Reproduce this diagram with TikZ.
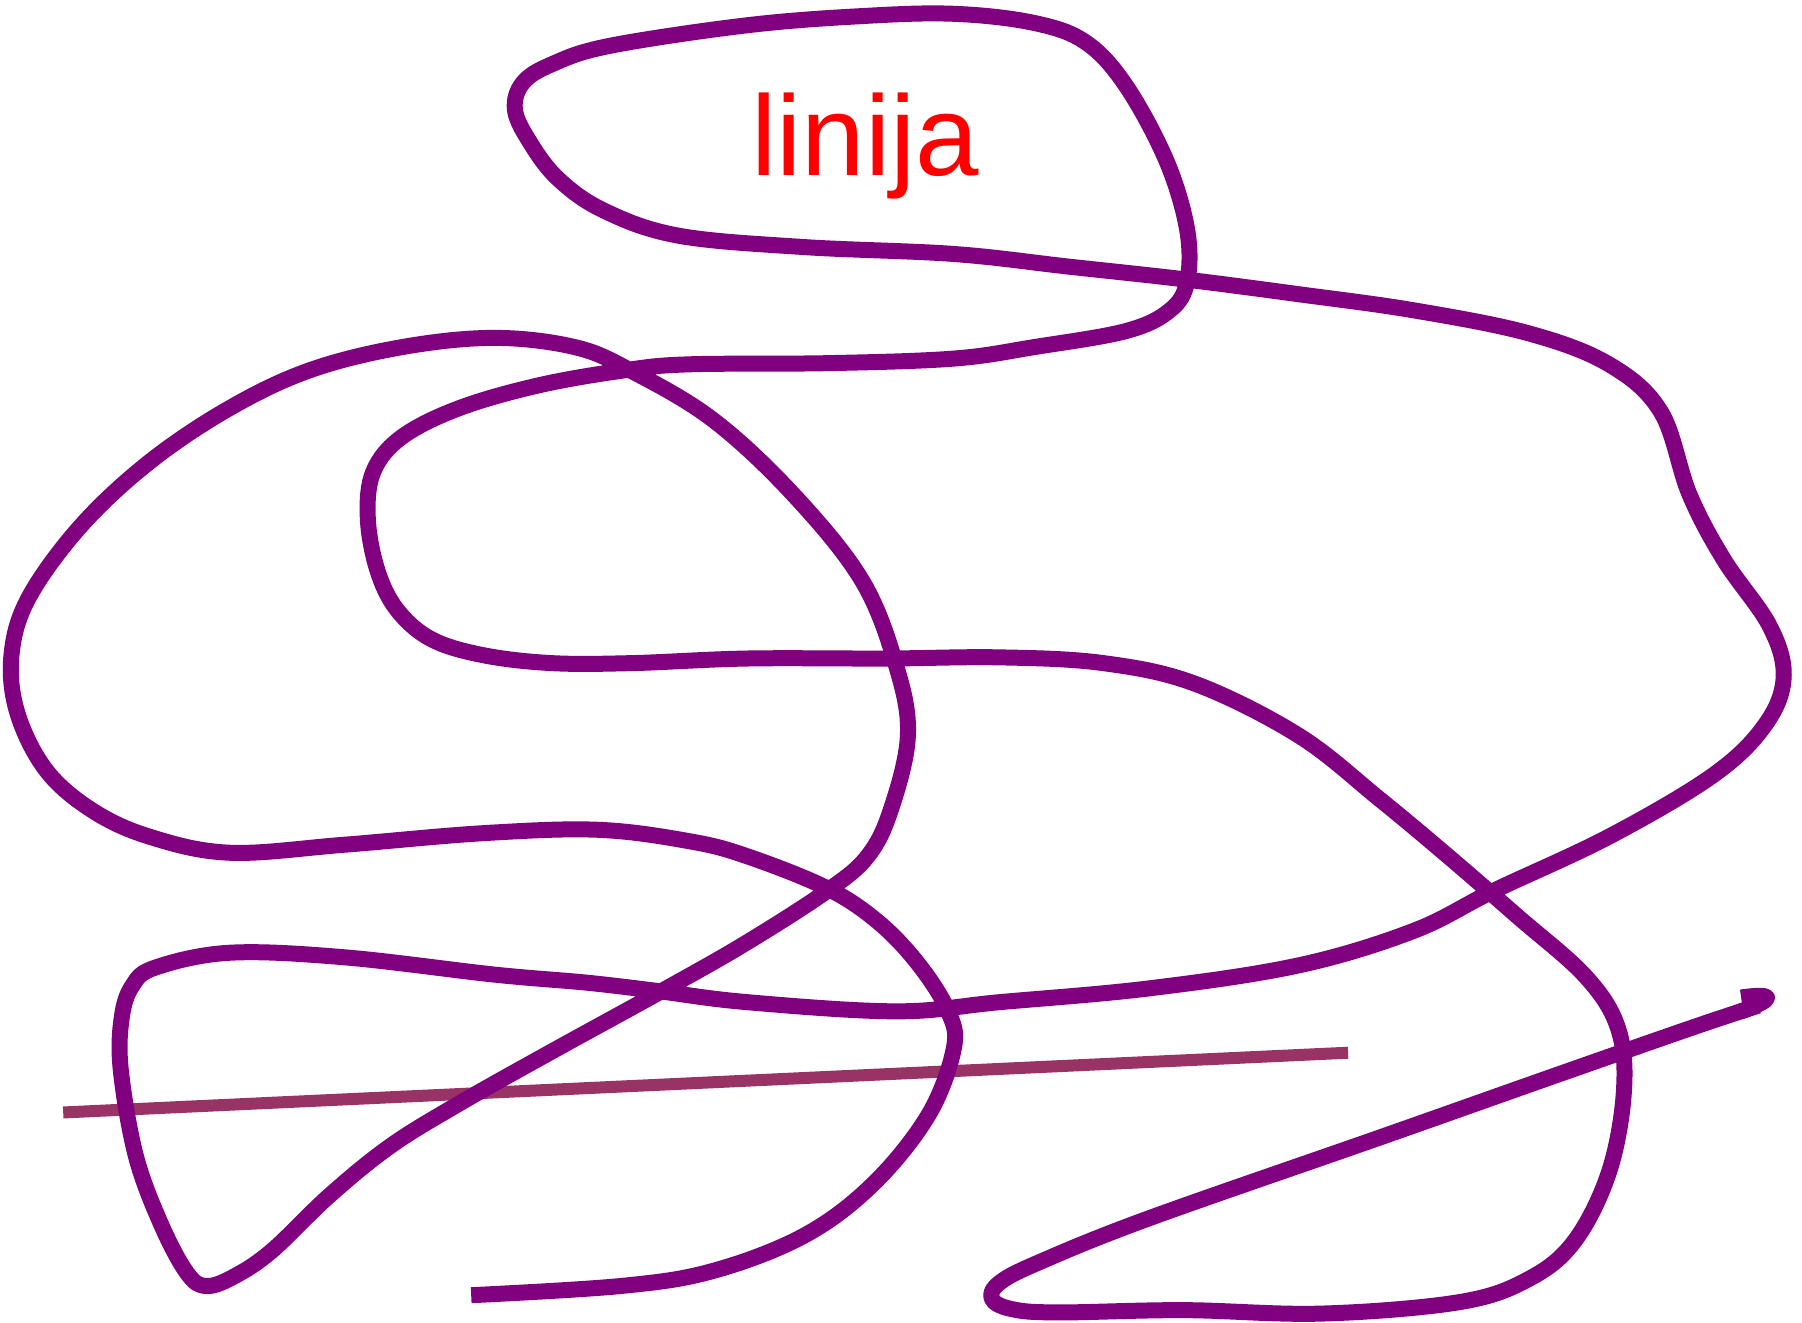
\documentclass[tikz,border=0pt]{standalone}
\usepackage{fontspec}
\setmainfont{Liberation Sans}
\definecolor{curvepurple}{HTML}{800080}
\definecolor{barmaroon}{HTML}{993366}
\definecolor{labelred}{HTML}{FF0000}
\tikzset{
  scribble/.style={draw=curvepurple, line width=16pt, line cap=butt, line join=round},
  bar/.style={draw=barmaroon, line width=12pt, line cap=butt},
  lbl/.style={text=labelred, font=\fontsize{114}{130}\selectfont, inner sep=0pt, anchor=base}
}
\begin{document}
\begin{tikzpicture}[x=1.1492pt, y=-1.1492pt]
\useasboundingbox (0,0) rectangle (1568,1151);
\fill[white] (0,0) rectangle (1568,1151);
\coordinate (barL) at (55,968);
\coordinate (barR) at (1173,916);
\draw[bar] (barL) -- (barR);
\coordinate (hookA) at (1515,880);
\coordinate (hookB) at (1515,868);
\draw[scribble] plot[smooth, tension=0.6] coordinates {
 (410,1127) (540,1119) (620,1106) (700,1075) (760,1030) (808,970) (830,912) (825,880)
 (800,840) (765,803) (720,773) (650,745) (600,732) (520,722) (420,725) (300,735)
 (200,742) (130,728) (80,705) (40,670) (15,620) (10,570) (25,520) (70,458)
 (130,402) (200,355) (270,322) (350,302) (430,294) (500,302) (548,322) (620,365)
 (690,430) (750,505) (780,580) (790,640) (775,705) (755,745) (720,775) (650,820)
 (580,860) (480,915) (400,960) (340,997) (287,1040) (237,1088) (205,1110) (180,1119)
 (163,1108) (140,1065) (118,1005) (105,930) (106,885) (115,858) (135,842) (200,829)
 (300,833) (430,848) (510,855) (570,862) (650,872) (780,880) (870,872) (1000,860)
 (1130,840) (1230,810) (1300,775) (1400,728) (1490,675) (1535,632) (1552,590) (1540,545)
 (1500,487) (1470,430) (1445,358) (1400,317) (1330,290) (1230,270) (1130,256)
 (1030,243) (930,232) (830,221) (700,215) (590,205) (525,183) (485,155) (460,122)
 (448,95) (455,72) (480,56) (530,40) (650,22) (750,14) (830,12) (900,20)
 (945,37) (980,75) (1015,140) (1033,200) (1033,245) (1018,270) (980,288) (900,302)
 (830,312) (720,316) (600,317) (545,322) (470,335) (400,355) (350,380) (325,410)
 (320,450) (328,495) (345,530) (375,556) (420,570) (480,577) (550,577) (650,573)
 (770,573) (870,572) (960,577) (1040,595) (1130,640) (1200,695) (1260,745) (1320,797)
 (1380,850) (1408,895) (1413,950) (1400,1020) (1370,1080) (1330,1113) (1270,1133) (1150,1143)
 (1030,1140) (920,1142) (880,1139) (863,1130) (870,1116) (905,1098) (1000,1060) (1200,990)
 (1350,937) (1470,895) (1530,875)
};
\draw[scribble] (hookA) .. controls (1548,868) and (1542,864) .. (hookB);
\node[lbl] (label) at (753,153) {linija};
\end{tikzpicture}
\end{document}
